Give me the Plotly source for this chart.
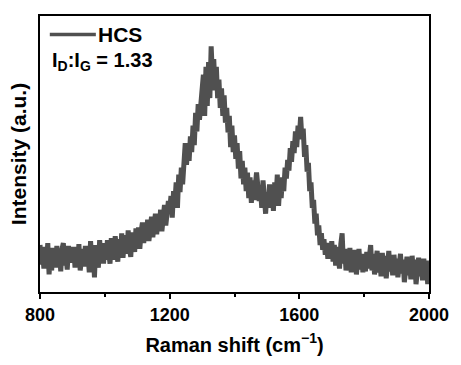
import plotly.graph_objects as go

# Raman shift grid (cm^-1), step 4
raman_shift = list(range(800, 2001, 4))

# Intensity (a.u.), 100 cm^-1 per row
intensity = [
    48, 28, 42, 24, 46, 30, 50, 18, 40, 22, 45, 32, 25, 47, 28, 41, 21, 44, 50, 27, 39, 23, 47, 30, 42,
    30, 46, 25, 41, 27, 49, 22, 39, 44, 26, 47, 28, 40, 20, 52, 30, 43, 15, 48, 32, 25, 53, 34, 46, 29,
    50, 33, 53, 36, 29, 55, 40, 33, 57, 41, 31, 54, 38, 60, 35, 51, 58, 39, 63, 44, 36, 61, 47, 41, 65,
    48, 66, 44, 62, 71, 50, 67, 54, 74, 52, 69, 77, 56, 72, 80, 59, 76, 64, 84, 62, 81, 89, 68, 86, 93,
    83, 98, 76, 103, 90, 112, 86, 120, 102, 127, 110, 141, 152, 130, 150, 134, 159, 143, 170, 150, 183, 164, 192, 176, 198,
    205, 222, 180, 230, 190, 235, 198, 251, 220, 238, 206, 230, 198, 217, 188, 208, 180, 201, 173, 188, 163, 180, 148, 170, 143,
    160, 136, 152, 126, 144, 116, 134, 110, 127, 103, 122, 96, 117, 91, 114, 94, 110, 122, 108, 93, 107, 86, 114, 90, 80,
    102, 86, 110, 90, 106, 83, 112, 94, 120, 88, 110, 96, 117, 103, 127, 116, 135, 124, 147, 133, 154, 142, 164, 148, 170,
    158, 179, 156, 167, 138, 150, 123, 132, 103, 112, 86, 94, 70, 80, 58, 68, 48, 60, 43, 54, 38, 50, 34, 48, 36,
    52, 31, 48, 27, 46, 33, 24, 49, 60, 29, 44, 22, 42, 27, 45, 20, 40, 25, 43, 18, 38, 44, 23, 39, 20,
    37, 21, 41, 24, 38, 48, 22, 39, 18, 35, 42, 20, 34, 16, 40, 23, 37, 14, 33, 42, 21, 35, 17, 38, 22,
    34, 15, 32, 39, 19, 33, 10, 31, 36, 17, 32, 13, 37, 20, 33, 8, 30, 35, 16, 31, 12, 34, 18, 32, 8, 28,
]

series_name = "HCS"
ratio_label = "I<sub>D</sub>:I<sub>G</sub> = 1.33"
x_ticks = [800, 1200, 1600, 2000]

FONT = "Liberation Sans, Arial, sans-serif"
LINE_COLOR = "#505050"

fig = go.Figure()
fig.add_trace(go.Scatter(
    x=raman_shift, y=intensity, mode="lines", name=series_name,
    line=dict(color=LINE_COLOR, width=5), showlegend=False,
))

# legend sample (manual) + texts
fig.add_shape(type="line", xref="paper", yref="paper",
              x0=10 / 397, x1=57 / 397, y0=(298 - 35) / 282, y1=(298 - 35) / 282,
              line=dict(color=LINE_COLOR, width=3.5))
fig.add_annotation(xref="paper", yref="paper", x=57 / 397, y=(298 - 35) / 282,
                   xanchor="left", yanchor="middle", showarrow=False,
                   text="<b>%s</b>" % series_name,
                   font=dict(family=FONT, size=21, color="#000"))
fig.add_annotation(xref="paper", yref="paper", x=10 / 397, y=(298 - 62) / 282,
                   xanchor="left", yanchor="middle", showarrow=False,
                   text="<b>%s</b>" % ratio_label,
                   font=dict(family=FONT, size=20, color="#000"))

fig.update_layout(
    width=461, height=365,
    margin=dict(l=40, r=24, t=16, b=67),
    paper_bgcolor="white", plot_bgcolor="white",
    font=dict(family=FONT, color="#000"),
)
fig.update_xaxes(
    range=[800, 2000], tickvals=x_ticks, ticktext=["<b>%d</b>" % v for v in x_ticks],
    ticks="outside", ticklen=5, tickwidth=2, tickcolor="#000",
    minor=dict(dtick=200, tick0=800, ticks="outside", ticklen=3, tickwidth=2, tickcolor="#000"),
    tickfont=dict(family=FONT, size=18, color="#000"),
    showline=True, linewidth=2, linecolor="#000", mirror=True,
    showgrid=False, zeroline=False,
    title=dict(text="<b>Raman shift (cm<sup>\u22121</sup>)</b>", font=dict(family=FONT, size=20, color="#000"), standoff=14),
)
fig.update_yaxes(
    range=[0, 282], showticklabels=False, ticks="",
    showline=True, linewidth=2, linecolor="#000", mirror=True,
    showgrid=False, zeroline=False,
    title=dict(text="<b>Intensity (a.u.)</b>", font=dict(family=FONT, size=21, color="#000"), standoff=6),
)

fig.write_html("out.html")
